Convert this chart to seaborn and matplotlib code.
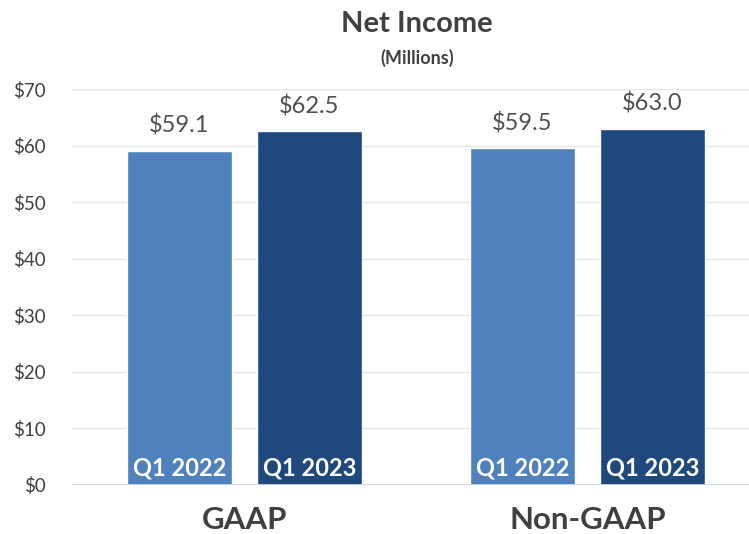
import matplotlib.pyplot as plt
import seaborn as sns
import pandas as pd

# dati
groups = ["GAAP", "GAAP", "Non-GAAP", "Non-GAAP"]
periods = ["Q1 2022", "Q1 2023", "Q1 2022", "Q1 2023"]
values = [59.1, 62.5, 59.5, 63.0]
period_order = ["Q1 2022", "Q1 2023"]
colors = ["#4F81BD", "#1F497D"]

df = pd.DataFrame({"group": groups, "period": periods, "value": values})

sns.set_theme(style="white")
plt.rcParams['font.family'] = ['Lato', 'DejaVu Sans']

fig = plt.figure(figsize=(7.49, 5.34), dpi=100)
ax = fig.add_axes([0.096, 0.0918, 0.904, 0.7415])

sns.barplot(data=df, x="group", y="value", hue="period", hue_order=period_order,
            palette=colors, width=0.758, gap=0.19, ax=ax, legend=False,
            saturation=1, errorbar=None)

ax.set_ylim(0, 70)
ax.set_xlim(-0.503, 1.471)
ax.set_yticks(range(0, 71, 10))
ax.set_yticklabels([f"${v}" for v in range(0, 71, 10)], fontsize=13.5, color="#404040")
ax.tick_params(axis="y", length=0, pad=19)
ax.tick_params(axis="x", length=0, pad=15)
for lab in ax.get_xticklabels():
    lab.set_fontsize(22.5)
    lab.set_fontweight("bold")
    lab.set_color("#404040")
ax.set_xlabel("")
ax.set_ylabel("")
ax.grid(axis="y", color="#E6E6E6", linewidth=1)
ax.set_axisbelow(True)
for s in ax.spines.values():
    s.set_visible(False)
ax.axhline(0, color="#C9D7EE", linewidth=2, zorder=5)

# etichette dei valori e dei periodi
for cont, per in zip(ax.containers, period_order):
    ax.bar_label(cont, labels=[f"${b.get_height():.1f}" for b in cont],
                 padding=10, fontsize=17, color="#505050")
    for b in cont:
        ax.text(b.get_x() + b.get_width() / 2, 1.6, per, ha="center", va="baseline",
                fontsize=17, fontweight="bold", color="white")

fig.text(0.557, 0.955, "Net Income", ha="center", va="center",
         fontsize=21, fontweight="bold", color="#404040")
fig.text(0.557, 0.891, "(Millions)", ha="center", va="center",
         fontsize=13, fontweight="bold", color="#404040")

fig.savefig("out.png", dpi=100)
